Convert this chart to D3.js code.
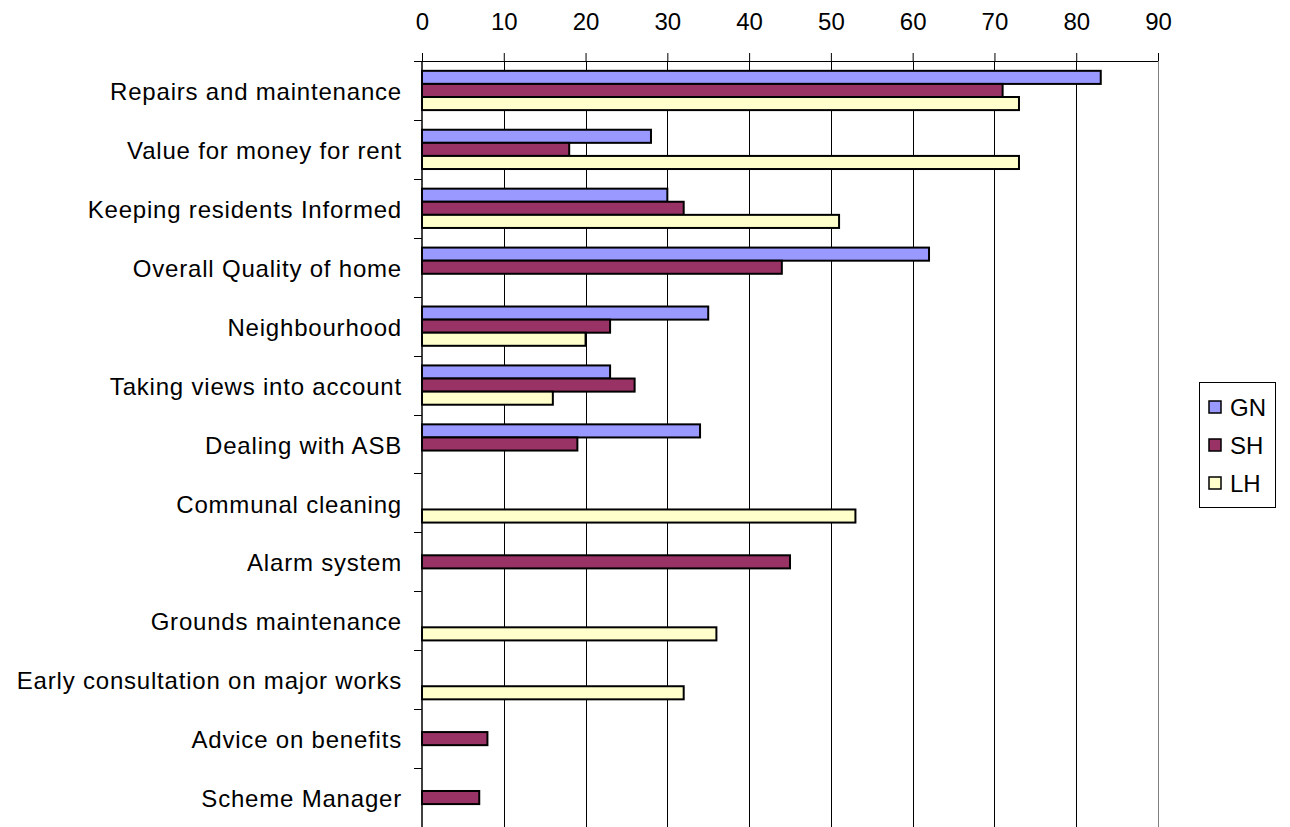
<!DOCTYPE html>
<html>
<head>
<meta charset="utf-8">
<script src="https://cdn.jsdelivr.net/npm/d3@7"></script>
<style>
  html, body { margin: 0; padding: 0; background: #fff; }
  svg { display: block; font-family: Arial, "Liberation Sans", sans-serif; }
</style>
</head>
<body>
<svg id="chart" width="1290" height="827"></svg>
<script>
// Survey categories, top to bottom
const categories = [
  "Repairs and maintenance",
  "Value for money for rent",
  "Keeping residents Informed",
  "Overall Quality of home",
  "Neighbourhood",
  "Taking views into account",
  "Dealing with ASB",
  "Communal cleaning",
  "Alarm system",
  "Grounds maintenance",
  "Early consultation on major works",
  "Advice on benefits",
  "Scheme Manager"
];

const seriesNames = ["GN", "SH", "LH"];

// null = no bar for that category
const gnValues = [83, 28, 30, 62, 35, 23, 34, null, null, null, null, null, null];
const shValues = [71, 18, 32, 44, 23, 26, 19, null, 45, null, null, 8, 7];
const lhValues = [73, 73, 51, null, 20, 16, null, 53, null, 36, 32, null, null];

const xTicks = [0, 10, 20, 30, 40, 50, 60, 70, 80, 90];

const colors = { GN: "#9999FF", SH: "#993366", LH: "#FFFFCC" };

const FONT = "Arial, 'Liberation Sans', sans-serif";

const rows = categories.map((c, i) => ({
  category: c,
  values: [
    { key: "GN", value: gnValues[i] },
    { key: "SH", value: shValues[i] },
    { key: "LH", value: lhValues[i] }
  ]
}));

const svg = d3.select("#chart");
const plot = { left: 422, right: 1158, top: 61, bottom: 827 };

const x = d3.scaleLinear().domain([0, 90]).range([plot.left, plot.right]);
const y = d3.scaleBand().domain(categories).range([plot.top, plot.bottom]).paddingInner(0).paddingOuter(0);
const ySeries = d3.scaleBand().domain(seriesNames)
  .range([0, y.bandwidth()]).paddingInner(0).paddingOuter(0.75);

// Vertical gridlines
svg.append("g")
  .selectAll("line")
  .data(xTicks.slice(1))
  .join("line")
  .attr("x1", d => Math.round(x(d)) + 0.5).attr("x2", d => Math.round(x(d)) + 0.5)
  .attr("y1", plot.top).attr("y2", plot.bottom)
  .attr("stroke", (d, i, a) => i === a.length - 1 ? "#808080" : "#000")
  .attr("stroke-width", 1);

// Top value axis
const xAxis = svg.append("g")
  .attr("transform", `translate(0,${plot.top})`)
  .call(d3.axisTop(x).tickValues(xTicks).tickSize(8).tickPadding(23).tickSizeOuter(0));
xAxis.select(".domain").remove();
xAxis.selectAll(".tick line").attr("stroke", "#000");
xAxis.selectAll(".tick text")
  .attr("font-size", 24)
  .attr("fill", "#000")
  .attr("font-family", FONT);
svg.append("line")
  .attr("x1", plot.left - 8).attr("x2", plot.right)
  .attr("y1", plot.top + 0.5).attr("y2", plot.top + 0.5)
  .attr("stroke", "#000");

// Bars
const groups = svg.append("g")
  .selectAll("g")
  .data(rows)
  .join("g")
  .attr("transform", d => `translate(0,${y(d.category)})`);

groups.selectAll("rect")
  .data(d => d.values.filter(v => v.value != null))
  .join("rect")
  .attr("x", x(0))
  .attr("y", d => ySeries(d.key))
  .attr("width", d => x(d.value) - x(0))
  .attr("height", ySeries.bandwidth())
  .attr("fill", d => colors[d.key])
  .attr("stroke", "#000")
  .attr("stroke-width", 2);

// Left category axis
const yAxis = svg.append("g")
  .attr("transform", `translate(${plot.left},0)`)
  .call(d3.axisLeft(y).tickSize(0).tickPadding(20).tickSizeOuter(0));
yAxis.select(".domain").remove();
yAxis.selectAll(".tick text")
  .attr("font-size", 24)
  .attr("letter-spacing", "0.8px")
  .attr("dy", "0.4em")
  .attr("fill", "#000")
  .attr("font-family", FONT);

// Category separators
svg.append("g")
  .selectAll("line")
  .data(categories.slice(1))
  .join("line")
  .attr("x1", plot.left - 8).attr("x2", plot.left)
  .attr("y1", d => Math.round(y(d)) + 0.5).attr("y2", d => Math.round(y(d)) + 0.5)
  .attr("stroke", "#000");

svg.append("line")
  .attr("x1", plot.left).attr("x2", plot.left)
  .attr("y1", plot.top).attr("y2", plot.bottom)
  .attr("stroke", "#000").attr("stroke-width", 1.5);

// Legend
const legend = svg.append("g").attr("transform", "translate(1199,382)");
legend.append("rect")
  .attr("x", 0.5).attr("y", 0.5)
  .attr("width", 76).attr("height", 125)
  .attr("fill", "#fff").attr("stroke", "#000").attr("stroke-width", 1);
const items = legend.selectAll("g.item")
  .data(seriesNames)
  .join("g")
  .attr("class", "item")
  .attr("transform", (d, i) => `translate(0,${24 + i * 38})`);
items.append("rect")
  .attr("x", 10).attr("y", -5)
  .attr("width", 12).attr("height", 12)
  .attr("fill", d => colors[d])
  .attr("stroke", "#000").attr("stroke-width", 1.5);
items.append("text")
  .attr("x", 31).attr("y", 1)
  .attr("dy", "0.36em")
  .attr("font-size", 24)
  .attr("fill", "#000")
  .attr("font-family", FONT)
  .text(d => d);
</script>
</body>
</html>
